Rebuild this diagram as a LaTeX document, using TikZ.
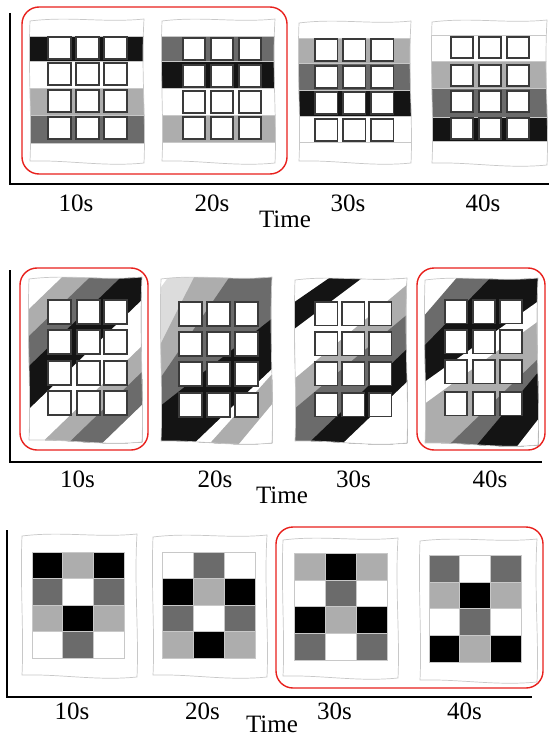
\documentclass[tikz,border=0pt]{standalone}
\usepackage{fontspec}
\setmainfont{Liberation Serif}
\definecolor{cblk}{HTML}{141414}
\definecolor{cdrk}{HTML}{6B6B6B}
\definecolor{clgt}{HTML}{ADADAD}
\definecolor{cvlt}{HTML}{DCDCDC}
\definecolor{cwht}{HTML}{FFFFFF}
\definecolor{cred}{HTML}{E8201C}
\definecolor{coutl}{HTML}{C8C8C8}
\definecolor{csq}{HTML}{3A3A3A}
\tikzset{
  cloth/.style n args={4}{insert path={
    (#1,{#2+2}) .. controls ({#1+0.35*(#3-#1)},{#2-3}) and ({#1+0.65*(#3-#1)},{#2+4}) .. (#3,#2)
    .. controls ({#3-3},{#2+0.35*(#4-#2)}) and ({#3+2},{#2+0.7*(#4-#2)}) .. (#3,#4)
    .. controls ({#1+0.65*(#3-#1)},{#4+4}) and ({#1+0.35*(#3-#1)},{#4-3}) .. (#1,{#4-2})
    .. controls ({#1+2},{#2+0.7*(#4-#2)}) and ({#1-2},{#2+0.35*(#4-#2)}) .. (#1,{#2+2}) -- cycle}},
  outl/.style={draw=coutl, line width=0.7pt},
  sqbox/.style={draw=csq, line width=1.3pt, fill=white},
  redbox/.style={draw=cred, line width=1.4pt, rounded corners=17pt},
  axis/.style={line width=2pt, black},
  lab/.style={font=\fontsize{25}{25}\selectfont, anchor=base, inner sep=0pt},
  bandline/.style={draw=coutl, line width=0.5pt},
  cell/.style={draw=coutl, line width=0.5pt},
}
% band image: outline box, bands, square columns, square rows, w, h
\newcommand{\bandimg}[9]{%
  \begin{scope}
    \clip[cloth={#1}{#2}{#3}{#4}];
    \foreach \ya/\yb/\cc in {#5} {
      \fill[\cc] (#1-6,\ya) rectangle (#3+6,\yb);
      \draw[bandline] (#1-6,\ya) -- (#3+6,\ya) (#1-6,\yb) -- (#3+6,\yb);
    }
  \end{scope}
  \draw[outl, cloth={#1}{#2}{#3}{#4}];
  \foreach \cx in {#6} \foreach \ry in {#7} \draw[sqbox] (\cx,\ry) rectangle ++(#8,#9);
}
% stripe image
\newcommand{\stripeimg}[9]{%
  \begin{scope}
    \clip[cloth={#1}{#2}{#3}{#4}];
    \fill[white] (#1-10,#2-10) rectangle (#3+10,#4+10);
    \foreach \yl/\yr/\cc in {#5}
      \fill[\cc] (#1-2,\yl) -- (#3+2,\yr) -- (#3+2,800) -- (#1-2,800) -- cycle;
  \end{scope}
  \draw[outl, cloth={#1}{#2}{#3}{#4}];
  \foreach \cx in {#6} \foreach \ry in {#7} \draw[sqbox] (\cx,\ry) rectangle ++(#8,#9);
}
% grid image
\newcommand{\gridimg}[9]{%
  \draw[outl, cloth={#1}{#2}{#3}{#4}];
  \foreach \cc [count=\i from 0] in {#9} {
    \pgfmathtruncatemacro\ci{mod(\i,3)}
    \pgfmathtruncatemacro\ri{\i/3}
    \fill[\cc, cell] ({#5+\ci*(#7-#5)/3},{#6+\ri*(#8-#6)/4}) rectangle ({#5+(\ci+1)*(#7-#5)/3},{#6+(\ri+1)*(#8-#6)/4});
  }
  \draw[cell, line width=0.7pt] (#5,#6) rectangle (#7,#8);
}
\begin{document}
\begin{tikzpicture}[x=1pt,y=-1pt]
\useasboundingbox[fill=white] (0,0) rectangle (549,738);

% ===== top row =====
\coordinate (a1t) at (10,13);
\coordinate (a1o) at (10,184);
\coordinate (a1r) at (549,184);
\draw[axis] (a1t) -- (a1o) -- (a1r);
\bandimg{30}{19}{144}{163}{36/61/cblk, 61/88/cwht, 88/115/clgt, 115/143/cdrk}{48,76,104}{37,63,90,117}{23}{22}
\bandimg{162}{19}{275}{163}{36/61/cdrk, 61/88/cblk, 88/115/cwht, 115/142/clgt}{183,211,239}{38,65,91,117}{22}{22}
\bandimg{299}{21}{411}{163}{38/63/clgt, 63/90/cdrk, 90/116/cblk, 116/142/cwht}{315,343,371}{39,66,92,119}{22.5}{22}
\bandimg{432}{20}{547}{165}{35/61/cwht, 61/88/clgt, 88/117/cdrk, 117/141/cblk}{451,479,507}{37,65,91,118}{22}{21}
\draw[redbox] (22,7) rectangle (287,174);
\node[lab] (t10) at (76,211) {10s};
\node[lab] (t20) at (212,211) {20s};
\node[lab] (t30) at (348,211) {30s};
\node[lab] (t40) at (483,211) {40s};
\node[lab] (ttime) at (285,227) {Time};

% ===== middle row =====
\coordinate (a2t) at (10,270);
\coordinate (a2o) at (10,462);
\coordinate (a2r) at (542,462);
\draw[axis] (a2t) -- (a2o) -- (a2r);
\stripeimg{29}{277}{142}{442}{311/198/clgt, 338/225/cdrk, 368/255/cblk, 411/298/cwht, 457/344/clgt, 483/370/cdrk, 516/403/cwht}{48,77,104}{300,330,361,391}{23}{24}
\stripeimg{161}{277}{272}{443}{290/130/cvlt, 347/118/clgt, 380/212/cdrk, 407/317/cblk, 477/367/cwht, 500/372/clgt, 540/402/cwht}{179,207,235}{302,332,362,393}{23}{24}
\stripeimg{295}{278}{407}{443}{303/223/cblk, 330/243/cwht, 380/283/clgt, 410/313/cdrk, 458/347/cblk, 491/380/cwht}{315,342,369}{302,332,362,393}{22.5}{23.5}
\stripeimg{425}{278}{538}{445}{317/181/cdrk, 347/227/cblk, 383/300/cwht, 405/320/clgt, 470/357/cdrk, 509/370/cblk, 567/417/cwht}{445,473,500}{300,330,360,392}{22}{23.5}
\draw[redbox] (20,268) rectangle (148,450);
\draw[redbox] (417,268) rectangle (545,450);
\node[lab] (m10) at (77.5,487) {10s};
\node[lab] (m20) at (215,487) {20s};
\node[lab] (m30) at (353.5,487) {30s};
\node[lab] (m40) at (490,487) {40s};
\node[lab] (mtime) at (282,503) {Time};

% ===== bottom row =====
\coordinate (a3t) at (7,530);
\coordinate (a3o) at (7,697);
\coordinate (a3r) at (532,697);
\draw[axis] (a3t) -- (a3o) -- (a3r);
\gridimg{22}{534}{137}{677}{32}{552}{124}{658}{black,clgt,black, cdrk,white,cdrk, clgt,black,clgt, white,cdrk,white}
\gridimg{153}{535}{267}{677}{162}{552}{255}{658}{white,cdrk,white, black,clgt,black, cdrk,white,cdrk, clgt,black,clgt}
\gridimg{283}{538}{398}{678}{294}{553}{387}{660}{clgt,black,clgt, white,cdrk,white, black,clgt,black, cdrk,white,cdrk}
\gridimg{420}{539}{537}{682}{429}{555}{521}{662}{cdrk,white,cdrk, clgt,black,clgt, white,cdrk,white, black,clgt,black}
\draw[redbox] (276,527) rectangle (543,688);
\node[lab] (b10) at (72,719) {10s};
\node[lab] (b20) at (202.5,719) {20s};
\node[lab] (b30) at (334.5,719) {30s};
\node[lab] (b40) at (464.5,719) {40s};
\node[lab] (btime) at (272,732) {Time};
\end{tikzpicture}
\end{document}
